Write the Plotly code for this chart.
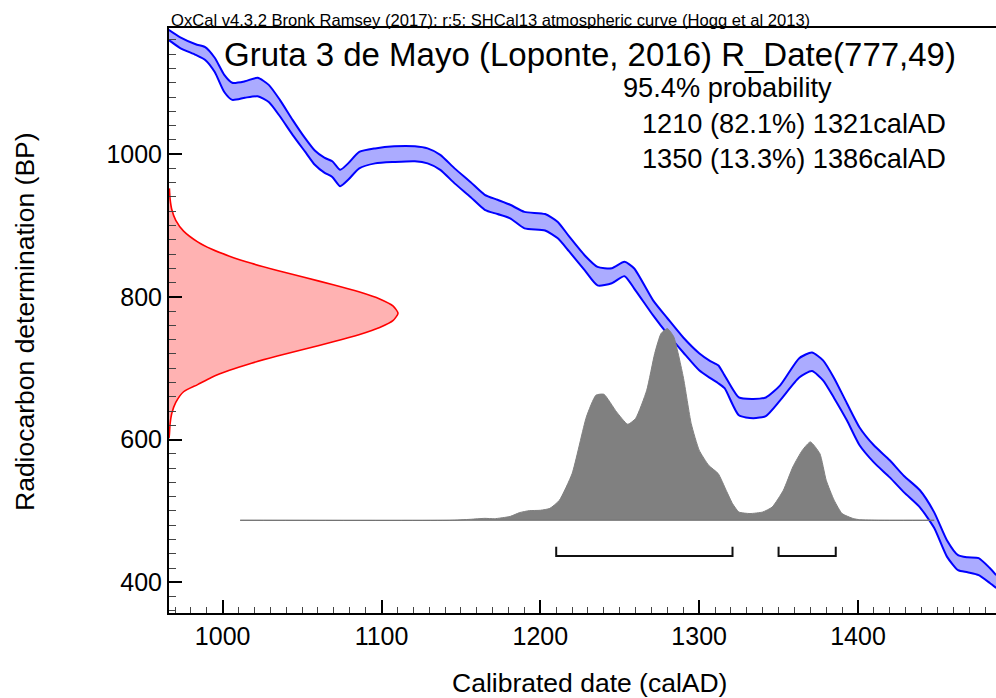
import plotly.graph_objects as go

# SHCal13 calibration band (calendar year AD, upper and lower 14C age BP)
curve_cal = [966, 973, 983, 989, 995, 1001, 1006, 1014, 1022, 1029, 1036, 1044,
             1052, 1058, 1064, 1069, 1074, 1079, 1086, 1096, 1108, 1121, 1129,
             1137, 1146, 1156, 1165, 1173, 1181, 1190, 1203, 1211, 1218, 1228,
             1236, 1245, 1253, 1259, 1271, 1280, 1290, 1300, 1307, 1312, 1316,
             1325, 1334, 1342, 1351, 1363, 1371, 1378, 1385, 1393, 1401, 1410,
             1420, 1429, 1439, 1448, 1456, 1463, 1469, 1476, 1483, 1487]
curve_upper = [1174, 1164, 1154, 1150, 1135, 1111, 1100, 1102, 1107, 1097, 1076, 1048,
               1022, 1005, 995, 990, 978, 987, 1003, 1008, 1011, 1011, 1008,
               999, 980, 961, 943, 936, 929, 919, 916, 905, 885, 858,
               842, 840, 849, 840, 795, 770, 743, 721, 710, 704, 690,
               659, 657, 659, 676, 714, 722, 711, 686, 651, 617, 592,
               571, 549, 529, 498, 459, 438, 435, 434, 420, 410]
curve_lower = [1160, 1149, 1139, 1132, 1115, 1087, 1076, 1079, 1081, 1073, 1053, 1027,
               1003, 985, 974, 968, 955, 964, 980, 987, 989, 990, 987,
               978, 959, 940, 922, 916, 910, 896, 893, 882, 864, 837,
               816, 819, 829, 812, 774, 748, 722, 697, 686, 679, 672,
               634, 630, 633, 655, 687, 696, 683, 658, 627, 592, 568,
               547, 526, 505, 476, 436, 417, 414, 410, 399, 392]

# Radiocarbon measurement R_Date(777,49): 14C age BP and relative likelihood
rdate_bp = [952, 937, 922, 907, 892, 877, 867, 857, 847, 837, 827, 817, 807,
            797, 787, 777, 767, 757, 747, 737, 727, 717, 707, 697, 687, 677,
            667, 652, 637, 622, 607, 602]
rdate_p = [0.0017, 0.0048, 0.0125, 0.0296, 0.0637, 0.125, 0.185, 0.264, 0.360,
           0.473, 0.594, 0.717, 0.829, 0.920, 0.979, 1.0, 0.979, 0.920, 0.829,
           0.717, 0.594, 0.473, 0.360, 0.264, 0.185, 0.125, 0.0637, 0.0296,
           0.0125, 0.0048, 0.0017, 0.0]

# Calibrated probability distribution (calendar year AD, relative probability)
post_cal = [1011, 1143, 1156, 1165, 1171, 1181, 1187, 1193, 1200, 1206, 1212,
            1220, 1229, 1235, 1240, 1248, 1255, 1260, 1267, 1272, 1276, 1280,
            1284, 1290, 1295, 1300, 1306, 1312, 1317, 1321, 1325, 1332, 1340,
            1346, 1353, 1359, 1365, 1370, 1376, 1380, 1385, 1390, 1397, 1401,
            1413, 1448]
post_p = [0, 0, 0.005, 0.010, 0.008, 0.020, 0.040, 0.050, 0.052, 0.062, 0.104,
          0.243, 0.538, 0.651, 0.656, 0.564, 0.500, 0.530, 0.677, 0.868, 0.972,
          0.998, 0.955, 0.746, 0.503, 0.365, 0.286, 0.243, 0.156, 0.087, 0.043,
          0.035, 0.043, 0.069, 0.156, 0.278, 0.365, 0.408, 0.347, 0.208, 0.104,
          0.035, 0.009, 0.003, 0, 0]

# 95.4% highest posterior density ranges (calAD)
hpd_from = [1210, 1350]
hpd_to = [1321, 1386]
hpd_pct = ["82.1%", "13.3%"]

FONT = "Liberation Sans, Arial, sans-serif"
W, H = 996, 698
L, R, T, B = 169, 0, 28, 85
PW, PH = W - L - R, H - T - B


def paper_x(px):
    return (px - L) / PW


def paper_y(py):
    return (H - B - py) / PH


fig = go.Figure()

# calibrated distribution, drawn in grey on its own vertical scale
fig.add_trace(go.Scatter(
    x=post_cal, y=post_p, yaxis="y2", mode="lines",
    line=dict(color="rgb(128,128,128)", width=1, shape="spline", smoothing=0.5),
    fill="tozeroy", fillcolor="rgb(128,128,128)", hoverinfo="skip"))
fig.add_trace(go.Scatter(
    x=[post_cal[0], post_cal[-1]], y=[0, 0], yaxis="y2", mode="lines",
    line=dict(color="rgb(110,110,110)", width=1), hoverinfo="skip"))

# calibration curve band
fig.add_trace(go.Scatter(
    x=curve_cal, y=curve_lower, mode="lines",
    line=dict(color="#0000ff", width=2, shape="spline", smoothing=0.6),
    hoverinfo="skip"))
fig.add_trace(go.Scatter(
    x=curve_cal, y=curve_upper, mode="lines",
    line=dict(color="#0000ff", width=2, shape="spline", smoothing=0.6),
    fill="tonexty", fillcolor="rgba(0,0,255,0.33)", hoverinfo="skip"))

# radiocarbon measurement along the BP axis
fig.add_trace(go.Scatter(
    x=rdate_p, y=rdate_bp, xaxis="x2", mode="lines",
    line=dict(color="#ff0000", width=1.6, shape="spline", smoothing=0.6),
    fill="tozerox", fillcolor="rgba(255,0,0,0.3)", hoverinfo="skip"))

# HPD range brackets
bar_bp, tick_bp = 437, 450
for a, b in zip(hpd_from, hpd_to):
    fig.add_trace(go.Scatter(
        x=[a, a, b, b], y=[tick_bp, bar_bp, bar_bp, tick_bp], mode="lines",
        line=dict(color="#111111", width=2), hoverinfo="skip"))

axis_common = dict(
    showgrid=False, zeroline=False, showline=True, linecolor="black",
    linewidth=2, ticks="inside", tickcolor="black", tickwidth=2,
    tickfont=dict(family=FONT, size=25, color="black"),
)

fig.update_layout(
    width=W, height=H,
    margin=dict(l=L, r=R, t=T, b=B, pad=0),
    paper_bgcolor="white", plot_bgcolor="white",
    showlegend=False,
    xaxis=dict(range=[966.2, 1486.9], dtick=100, tick0=0, ticklen=13,
               mirror=True,
               minor=dict(dtick=10, ticklen=6, tickcolor="#444444",
                          tickwidth=1, ticks="inside"),
               **axis_common),
    yaxis=dict(range=[357, 1176.7], dtick=200, tick0=0, ticklen=13,
               minor=dict(dtick=20, ticklen=7, tickcolor="#444444",
                          tickwidth=1, ticks="inside"),
               **axis_common),
    xaxis2=dict(overlaying="x", range=[0, 3.611], visible=False),
    yaxis2=dict(overlaying="y", range=[-0.4827, 2.5625], visible=False),
)

texts = [
    dict(text="OxCal v4.3.2 Bronk Ramsey (2017); r:5; SHCal13 atmospheric curve (Hogg et al 2013)",
         x=169, y=20, size=16.6, anchor="left"),
    dict(text="Gruta 3 de Mayo (Loponte, 2016) R_Date(777,49)",
         x=222, y=55, size=33, anchor="left"),
    dict(text="95.4% probability", x=621, y=88, size=27.2, anchor="left"),
]
for i, (a, b) in enumerate(zip(hpd_from, hpd_to)):
    texts.append(dict(text=f"{a} ({hpd_pct[i]}) {b}calAD",
                      x=640, y=124 + 34 * i, size=27.2, anchor="left"))

for t in texts:
    fig.add_annotation(
        text=t["text"], x=paper_x(t["x"]), y=paper_y(t["y"]),
        xref="paper", yref="paper", xanchor=t["anchor"], yanchor="middle",
        showarrow=False, font=dict(family=FONT, size=t["size"], color="black"))

# axis titles
fig.add_annotation(text="Calibrated date (calAD)", x=paper_x(589), y=paper_y(683),
                   xref="paper", yref="paper", xanchor="center", yanchor="middle",
                   showarrow=False, font=dict(family=FONT, size=26.5, color="black"))
fig.add_annotation(text="Radiocarbon determination (BP)", x=paper_x(25), y=paper_y(322),
                   xref="paper", yref="paper", xanchor="center", yanchor="middle",
                   textangle=-90, showarrow=False,
                   font=dict(family=FONT, size=26.5, color="black"))

fig.write_html("out.html")
